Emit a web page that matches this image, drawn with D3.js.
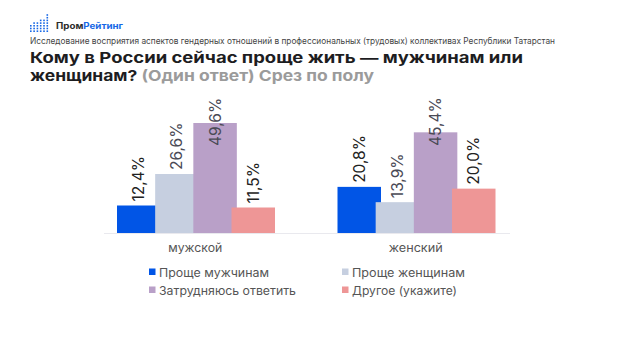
<!DOCTYPE html>
<html>
<head>
<meta charset="utf-8">
<script src="https://cdn.jsdelivr.net/npm/d3@7"></script>
<style>
  html, body { margin: 0; padding: 0; background: #fff; }
  text { font-family: Inter, "Noto Sans", sans-serif; }
</style>
</head>
<body>
<div id="chart"></div>
<script>
const categories = ["мужской", "женский"];
const series = ["Проще мужчинам", "Проще женщинам", "Затрудняюсь ответить", "Другое (укажите)"];
const colors = ["#0155e6", "#c6cfe0", "#b9a0c8", "#ee9696"];
const men = [12.4, 26.6, 49.6, 11.5];
const women = [20.8, 13.9, 45.4, 20.0];
const logoColumns = [3, 4, 4, 5, 5, 7];
const legendWidths = [110, 113, 137, 105];

const width = 624, height = 351;
const baseline = 233;
const barWidth = 43.5;

const svg = d3.select("#chart").append("svg")
    .attr("width", width)
    .attr("height", height)
    .style("display", "block");

// logo
const logo = svg.append("g").attr("transform", "translate(30,32)");
logoColumns.forEach(function(n, i) {
    d3.range(n).forEach(function(j) {
        logo.append("rect")
            .attr("x", i * 3.3)
            .attr("y", -j * 2.7 - 1.6)
            .attr("width", 1.6)
            .attr("height", 1.6)
            .style("fill", "#1667e6");
    });
});

const logoText = svg.append("text")
    .attr("x", 56)
    .attr("y", 29)
    .attr("textLength", 67)
    .attr("lengthAdjust", "spacingAndGlyphs")
    .style("font-size", "8.5px")
    .style("font-weight", 700)
    .style("fill", "#2b2b2b");
logoText.append("tspan").text("Пром");
logoText.append("tspan").style("fill", "#1667e6").text("Рейтинг");

svg.append("text")
    .attr("x", 30)
    .attr("y", 44)
    .attr("textLength", 525)
    .attr("lengthAdjust", "spacingAndGlyphs")
    .style("font-size", "8.5px")
    .style("fill", "#444")
    .text("Исследование восприятия аспектов гендерных отношений в профессиональных (трудовых) коллективах Республики Татарстан");

svg.append("text")
    .attr("x", 30)
    .attr("y", 63)
    .attr("textLength", 493)
    .attr("lengthAdjust", "spacingAndGlyphs")
    .style("font-size", "14.8px")
    .style("font-weight", 700)
    .style("fill", "#1d1d1f")
    .text("Кому в России сейчас проще жить — мужчинам или");

const title2 = svg.append("text")
    .attr("x", 30)
    .attr("y", 81)
    .attr("textLength", 344)
    .attr("lengthAdjust", "spacingAndGlyphs")
    .style("font-size", "14.8px")
    .style("font-weight", 700)
    .style("fill", "#1d1d1f");
title2.append("tspan").text("женщинам? ");
title2.append("tspan").style("fill", "#9b9b9b").text("(Один ответ) Срез по полу");

// scales
const x0 = d3.scaleBand()
    .domain(categories)
    .range([85, 526])
    .paddingInner(0);

const x1 = d3.scalePoint()
    .domain(series)
    .range([0, 114.5]);

const y = d3.scaleLinear()
    .domain([0, 49.6])
    .range([baseline, 123]);

const groups = [men, women];

svg.append("line")
    .attr("x1", 104)
    .attr("x2", 510)
    .attr("y1", baseline + 0.5)
    .attr("y2", baseline + 0.5)
    .style("stroke", "#e9e9ee");

categories.forEach(function(cat, g) {
    const left = g === 0 ? 117 : 337.5;

    svg.selectAll(".bar" + g)
        .data(groups[g])
      .enter().append("rect")
        .attr("class", "bar" + g)
        .attr("x", (d, i) => left + x1(series[i]))
        .attr("y", d => y(d))
        .attr("width", barWidth)
        .attr("height", d => baseline - y(d))
        .style("fill", (d, i) => colors[i]);

    svg.selectAll(".label" + g)
        .data(groups[g])
      .enter().append("text")
        .attr("class", "label" + g)
        .attr("transform", function(d, i) {
            const lx = left + x1(series[i]) + barWidth / 2 + 5.5;
            const ly = Math.max(y(d) - 4, 146);
            return "translate(" + lx + "," + ly + ") rotate(-90)";
        })
        .style("font-size", "15.5px")
        .style("fill", (d, i) => i === 0 || i === 3 ? "#222" : "#4a4a55")
        .text(d => d.toFixed(1).replace(".", ",") + "%");

    svg.append("text")
        .attr("x", x0(cat) + x0.bandwidth() / 2)
        .attr("y", 252)
        .attr("textLength", 54)
        .attr("lengthAdjust", "spacingAndGlyphs")
        .style("text-anchor", "middle")
        .style("font-size", "11.5px")
        .style("fill", "#555")
        .text(cat);
});

// legend
const legendX = [149, 342];
const legendY = [273, 291];
series.forEach(function(s, i) {
    const lx = legendX[i % 2], ly = legendY[Math.floor(i / 2)];
    svg.append("rect")
        .attr("x", lx)
        .attr("y", ly - 4.5)
        .attr("width", 6.5)
        .attr("height", 6.5)
        .style("fill", colors[i]);
    svg.append("text")
        .attr("x", lx + 10)
        .attr("y", ly + 3.5)
        .attr("textLength", legendWidths[i])
        .attr("lengthAdjust", "spacingAndGlyphs")
        .style("font-size", "11.5px")
        .style("fill", "#555")
        .text(s);
});
</script>
</body>
</html>
